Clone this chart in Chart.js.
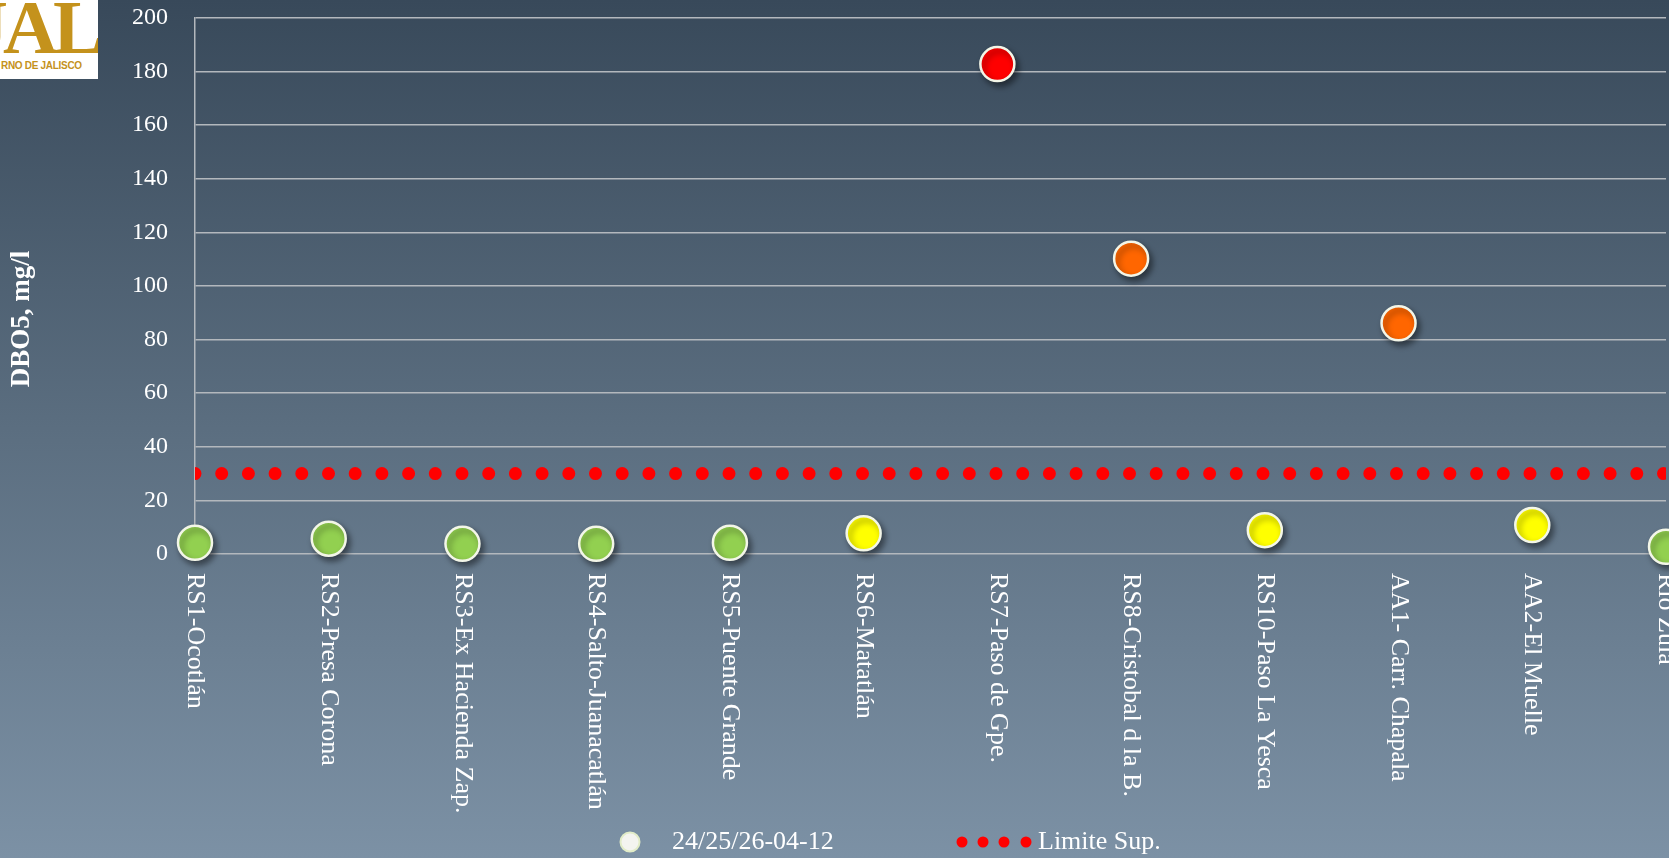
<!DOCTYPE html>
<html lang="es">
<head>
    <meta charset="UTF-8">
    <title>DBO5 - Río Santiago</title>
    <script src="https://cdn.jsdelivr.net/npm/chart.js"></script>
    <style>
        html, body { margin: 0; padding: 0; overflow: hidden; }
        body {
            width: 1669px; height: 858px;
            background: linear-gradient(to bottom, #38495a 0%, #5b6e80 50%, #7c91a5 100%);
            position: relative;
        }
        #chartBox { position: absolute; left: 0; top: 0; width: 1669px; height: 858px; }
        .logo {
            position: absolute; left: 0; top: 0; width: 98px; height: 79px;
            background: #fff; overflow: hidden; z-index: 2;
            font-family: 'Liberation Serif', serif; color: #c4921c;
        }
        .logo .big { position: absolute; left: -30px; top: -16px; font-size: 76px; font-weight: bold; letter-spacing: -5px; }
        .logo .small { position: absolute; left: 1px; top: 60px; font-size: 10px; font-weight: bold; font-family: 'Liberation Sans', sans-serif; white-space: nowrap; letter-spacing: -0.3px; }
    </style>
</head>
<body>
    <div class="logo"><span class="big">JAL</span><span class="small">RNO DE JALISCO</span></div>
    <div id="chartBox"><canvas id="chart"></canvas></div>

    <script>
    // data
    const categories = ['RS1-Ocotlán', 'RS2-Presa Corona', 'RS3-Ex Hacienda Zap.', 'RS4-Salto-Juanacatlán',
        'RS5-Puente Grande', 'RS6-Matatlán', 'RS7-Paso de Gpe.', 'RS8-Cristobal d la B.',
        'RS10-Paso La Yesca', 'AA1- Carr. Chapala', 'AA2-El Muelle', 'Rio Zula'];
    const dboValues = [4.2, 5.7, 3.8, 3.8, 4.2, 7.7, 182.8, 110.2, 8.9, 86.1, 10.8, 2.7];
    const limitValues = [30, 30, 30, 30, 30, 30, 30, 30, 30, 30, 30, 30];
    const pointColors = ['#92d050', '#92d050', '#92d050', '#92d050', '#92d050', '#ffff00',
        '#ff0000', '#ff6600', '#ffff00', '#ff6600', '#ffff00', '#92d050'];
    const seriesNames = ['24/25/26-04-12', 'Limite Sup.'];
    const yTitle = 'DBO5, mg/l';

    const FONT = "'Liberation Serif', serif";

    // shadow under the sample points
    const shadowPlugin = {
        id: 'pointShadow',
        beforeDatasetDraw(chart, args) {
            if (args.index !== 0) return;
            const ctx = chart.ctx;
            ctx.save();
            ctx.shadowColor = 'rgba(0,0,0,0.45)';
            ctx.shadowBlur = 6;
            ctx.shadowOffsetX = 3;
            ctx.shadowOffsetY = 4;
        },
        afterDatasetDraw(chart, args) {
            if (args.index !== 0) return;
            chart.ctx.restore();
        }
    };

    // x labels read top-to-bottom, y title, and the legend
    const textPlugin = {
        id: 'slideText',
        afterDraw(chart) {
            const ctx = chart.ctx;
            const xs = chart.scales.x;
            const area = chart.chartArea;

            ctx.save();
            ctx.fillStyle = '#ffffff';
            ctx.font = '26px ' + FONT;
            ctx.textAlign = 'left';
            ctx.textBaseline = 'middle';
            categories.forEach((c, i) => {
                const x = xs.getPixelForValue(i);
                ctx.save();
                ctx.translate(x, area.bottom + 19);
                ctx.rotate(Math.PI / 2);
                ctx.fillText(c, 0, 0);
                ctx.restore();
            });

            // y axis title
            ctx.save();
            ctx.font = 'bold 27px ' + FONT;
            ctx.textAlign = 'center';
            ctx.translate(22, 319);
            ctx.rotate(-Math.PI / 2);
            ctx.fillText(yTitle, 0, 0);
            ctx.restore();

            // legend
            const ly = 842;
            ctx.beginPath();
            ctx.arc(630, ly, 9.5, 0, Math.PI * 2);
            ctx.fillStyle = '#f4f4f0';
            ctx.fill();
            ctx.lineWidth = 2;
            ctx.strokeStyle = '#e2ecc8';
            ctx.stroke();
            ctx.fillStyle = '#ffffff';
            ctx.font = '26px ' + FONT;
            ctx.fillText(seriesNames[0], 672, ly);

            ctx.fillStyle = '#ff0000';
            [962, 983, 1004, 1026].forEach(dx => {
                ctx.beginPath();
                ctx.arc(dx, ly, 5.5, 0, Math.PI * 2);
                ctx.fill();
            });
            ctx.fillStyle = '#ffffff';
            ctx.fillText(seriesNames[1], 1038, ly);
            ctx.restore();
        }
    };

    new Chart(document.getElementById('chart'), {
        type: 'line',
        data: {
            labels: categories,
            datasets: [
                {
                    label: seriesNames[0],
                    data: dboValues,
                    showLine: false,
                    pointRadius: 17,
                    pointHoverRadius: 17,
                    pointBackgroundColor: pointColors,
                    pointBorderColor: '#f3f6e8',
                    pointBorderWidth: 2.5,
                    clip: false,
                    order: 0
                },
                {
                    label: seriesNames[1],
                    data: limitValues,
                    borderColor: '#ff0000',
                    borderWidth: 13,
                    borderDash: [0, 26.7],
                    borderCapStyle: 'round',
                    pointRadius: 0,
                    fill: false,
                    clip: 0,
                    order: 1
                }
            ]
        },
        options: {
            responsive: true,
            maintainAspectRatio: false,
            animation: false,
            layout: { autoPadding: false, padding: { top: 18, right: 3, bottom: 304, left: 0 } },
            plugins: {
                legend: { display: false },
                tooltip: { enabled: false }
            },
            scales: {
                x: {
                    ticks: { display: false },
                    grid: { display: false, drawTicks: false },
                    border: { display: false }
                },
                y: {
                    min: 0,
                    max: 200,
                    ticks: {
                        stepSize: 20,
                        padding: 0,
                        color: '#ffffff',
                        font: { family: FONT, size: 24 }
                    },
                    grid: { color: '#b3b8bd', lineWidth: 1.5, drawTicks: true, tickLength: 27, tickColor: 'rgba(0,0,0,0)' },
                    border: { color: '#b3b8bd', width: 1.5 },
                    afterFit(scale) { scale.width = 195; }
                }
            }
        },
        plugins: [shadowPlugin, textPlugin]
    });
    </script>
</body>
</html>
